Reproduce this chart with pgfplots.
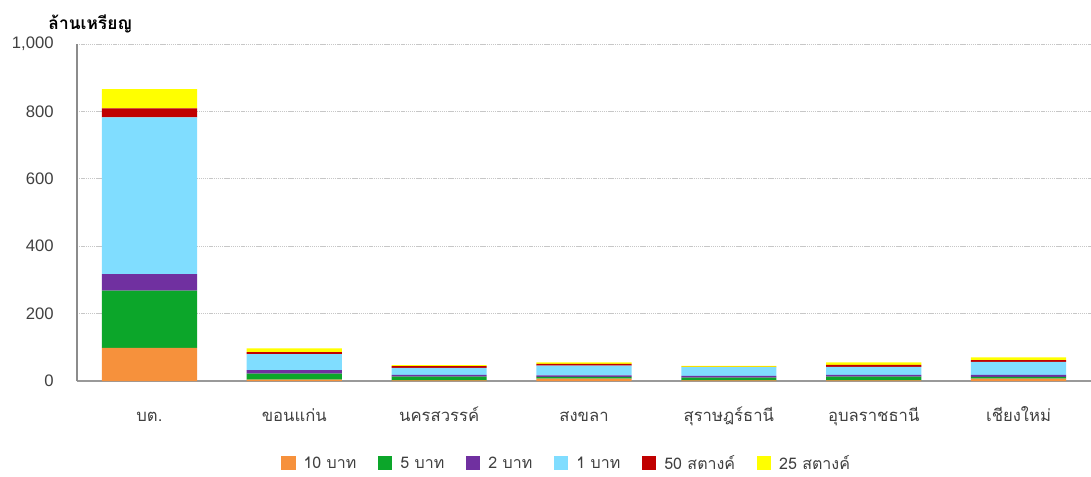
\documentclass[border=0pt]{standalone}
\usepackage{fontspec}
\setmainfont{Liberation Sans}
\newfontfamily\thaifont[Script=Thai]{Loma}
\usepackage{pgfplots}
\usepackage{pgfplotstable}
\pgfplotsset{compat=1.18}
\definecolor{cOrange}{RGB}{246,145,60}
\definecolor{cGreen}{RGB}{12,166,42}
\definecolor{cPurple}{RGB}{112,48,160}
\definecolor{cBlue}{RGB}{128,221,255}
\definecolor{cRed}{RGB}{192,0,0}
\definecolor{cYellow}{RGB}{255,255,0}
\definecolor{cText}{RGB}{64,64,64}
\pgfplotstableread{
x orange green purple blue red yellow
0 98 170 49 465 27 57
1 4 18 10 48 6 11
2 2 11 5 21 5 3
3 7 5 5 29 5 4
4 2 8 5 26 1 3
5 2 11 5 24 6 7
6 7 5 6 39 5 8
}\data
\begin{document}
\begin{tikzpicture}[x=1pt,y=1pt]
\begin{axis}[
  scale only axis,
  width=760.5pt, height=252.75pt,
  ybar stacked,
  bar width=0.657,
  xmin=-0.5, xmax=6.5,
  ymin=0, ymax=1000,
  ytick={0,200,400,600,800,1000},
  xtick=data,
  xticklabels={บต.,ขอนแก่น,นครสวรรค์,สงขลา,สุราษฎร์ธานี,อุบลราชธานี,เชียงใหม่},
  xticklabel style={font=\thaifont\fontsize{12.5pt}{14pt}\selectfont, anchor=base, yshift=-30pt, text=cText},
  yticklabel style={font=\fontsize{12.5pt}{14pt}\selectfont, xshift=-14pt, text=cText},
  /pgf/number format/assume math mode=true,
  /pgf/number format/1000 sep={,},
  major tick length=0pt,
  axis x line*=bottom,
  axis y line*=left,
  x axis line style={draw=black!40, line width=1.6pt},
  y axis line style={draw=black!45, line width=0.9pt},
  ymajorgrids,
  grid style={draw=black!22, dash pattern=on 1pt off 0.6pt, line width=0.6pt},
  legend columns=6,
  legend style={draw=none, fill=none, inner sep=1pt, at={(rel axis cs:0.483,-0.245)}, anchor=center,
    font=\thaifont\fontsize{12pt}{14pt}\selectfont, text=cText,
    /tikz/every odd column/.append style={column sep=4pt},
    /tikz/every even column/.append style={column sep=14pt}},
  legend image code/.code={\fill[#1] (0pt,-5pt) rectangle (11pt,6pt);},
  clip=false,
]
\addplot[fill=cOrange, draw=none] table[x=x, y=orange]{\data};
\addplot[fill=cGreen, draw=none] table[x=x, y=green]{\data};
\addplot[fill=cPurple, draw=none] table[x=x, y=purple]{\data};
\addplot[fill=cBlue, draw=none] table[x=x, y=blue]{\data};
\addplot[fill=cRed, draw=none] table[x=x, y=red]{\data};
\addplot[fill=cYellow, draw=none] table[x=x, y=yellow]{\data};
\legend{10 บาท,5 บาท,2 บาท,1 บาท,50 สตางค์,25 สตางค์}
\node[font=\thaifont\bfseries\fontsize{13pt}{15pt}\selectfont, anchor=center] at ([xshift=10pt, yshift=15pt]rel axis cs:0,1) {ล้านเหรียญ};
\end{axis}
\pgfresetboundingbox
\path[use as bounding box] ([xshift=-57.75pt,yshift=-71.25pt]current axis.south west) rectangle ([yshift=33pt]current axis.north east);
\end{tikzpicture}
\end{document}
